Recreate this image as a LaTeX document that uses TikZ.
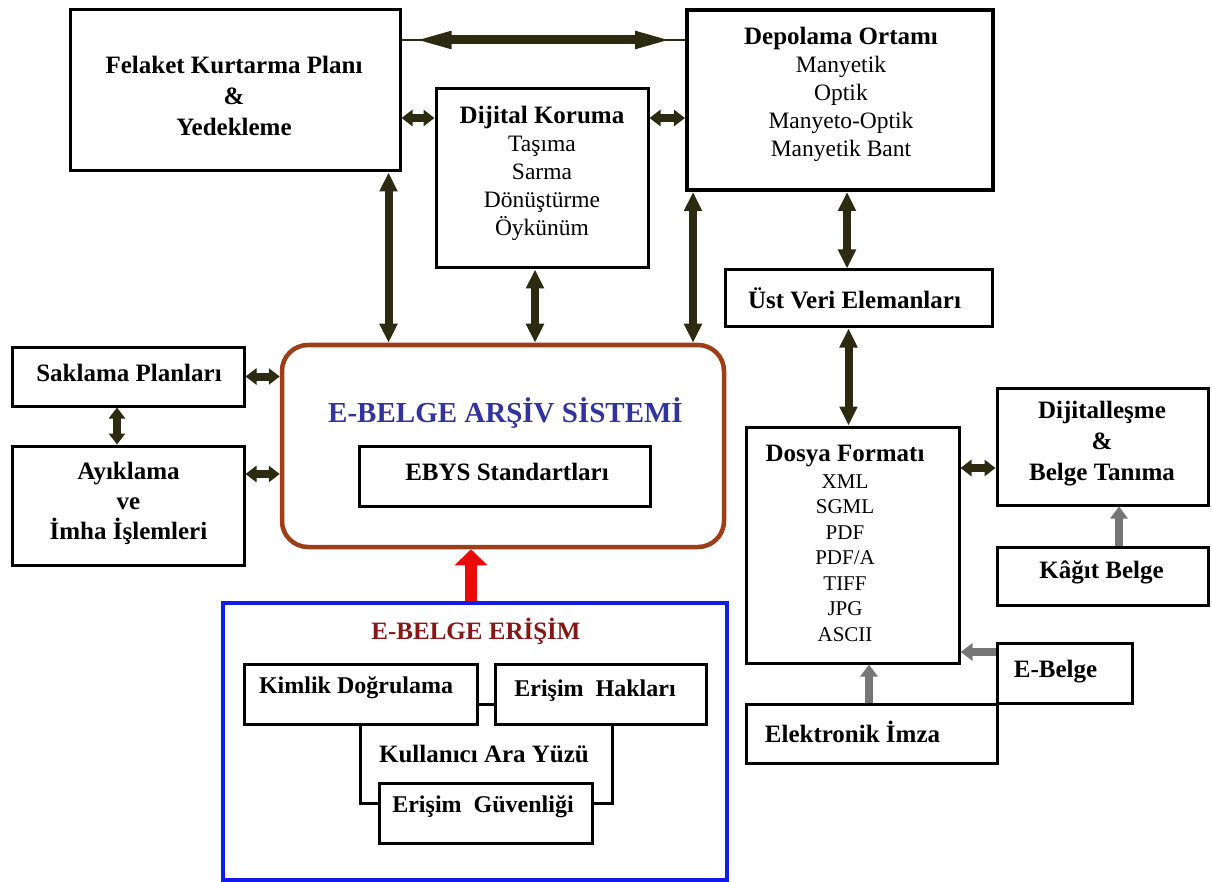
\documentclass[tikz,border=0pt]{standalone}
\usepackage{fontspec}
\setmainfont{Liberation Serif}
\usetikzlibrary{arrows.meta,calc}
\definecolor{olv}{RGB}{44,42,16}
\definecolor{brn}{RGB}{158,62,24}
\definecolor{blu}{RGB}{16,28,235}
\definecolor{ttlblue}{RGB}{50,50,160}
\definecolor{ttlred}{RGB}{135,22,22}
\definecolor{gry}{RGB}{118,118,118}
\definecolor{redarrow}{RGB}{235,10,10}
\begin{document}
\begin{tikzpicture}[x=1pt,y=-1pt,
  box/.style={draw=black, line width=3pt, inner sep=0pt, rectangle},
  ttl/.style={inner sep=0pt, align=center, font=\fontsize{25}{31}\selectfont\bfseries},
  lst/.style={inner sep=0pt, align=center, font=\fontsize{23.5}{28}\selectfont},
  dbl/.style={draw=olv, line width=8pt,
    {Triangle[width=17pt,length=19pt]}-{Triangle[width=17pt,length=19pt]}},
  dblshort/.style={draw=olv, line width=8pt,
    {Triangle[width=16pt,length=11pt]}-{Triangle[width=16pt,length=11pt]}},
  grayarrow/.style={draw=gry, line width=8pt, -{Triangle[width=17pt,length=12pt]}},
  redarr/.style={draw=redarrow, line width=12pt, -{Triangle[width=32pt,length=16pt]}},
  joinline/.style={line width=3pt}
]
\useasboundingbox (0,0) rectangle (1212,882);

% ---- upper row
\node[box, minimum width=330pt, minimum height=161pt] (fel) at (235,90.5) {};
\node[ttl] (felt) at (234,96) {Felaket Kurtarma Planı\\\&\\Yedekleme};

\node[box, minimum width=212pt, minimum height=179pt] (dij) at (542,178.5) {};
\node[lst] (dijt) at (542,173) {\textbf{\fontsize{25}{28}\selectfont Dijital Koruma}\\Taşıma\\Sarma\\Dönüştürme\\Öykünüm};

\node[box, line width=4pt, minimum width=306pt, minimum height=180pt] (dep) at (840,100) {};
\node[lst] (dept) at (841,94) {\textbf{\fontsize{25}{28}\selectfont Depolama Ortamı}\\Manyetik\\Optik\\Manyeto-Optik\\Manyetik Bant};

\node[box, minimum width=267pt, minimum height=57pt] (ust) at (858.5,298.5) {};
\node[ttl] (ustt) at (854.5,298) {Üst Veri Elemanları};

% ---- archive system
\node[draw=brn, line width=4.5pt, rounded corners=26pt, inner sep=0pt,
      minimum width=442pt, minimum height=202pt] (ars) at (503,446) {};
\node[ttl, font=\fontsize{29}{34}\selectfont\bfseries, text=ttlblue] (arst) at (505.5,413) {E-BELGE ARŞİV SİSTEMİ};
\node[box, minimum width=291pt, minimum height=60pt] (ebys) at (504.5,476) {};
\node[ttl] (ebyst) at (507,472) {EBYS Standartları};

% ---- left column
\node[box, minimum width=232pt, minimum height=59pt] (sak) at (128,376.5) {};
\node[ttl] (sakt) at (129,373) {Saklama Planları};
\node[box, minimum width=232pt, minimum height=119pt] (ayi) at (128,505.5) {};
\node[ttl, font=\fontsize{25}{30}\selectfont\bfseries] (ayit) at (128.5,503) {Ayıklama\\ve\\İmha İşlemleri};

% ---- access block
\node[draw=blu, line width=4.5pt, inner sep=0pt, minimum width=504pt, minimum height=277pt] (eri) at (475,741.5) {};
\node[ttl, text=ttlred] (erit) at (476,631) {E-BELGE ERİŞİM};
\node[box, minimum width=233pt, minimum height=60pt] (kim) at (360.5,694) {};
\node[ttl, font=\fontsize{24}{30}\selectfont\bfseries] (kimt) at (356,688) {Kimlik Doğrulama};
\node[box, minimum width=211pt, minimum height=60pt] (hak) at (600.5,694) {};
\node[ttl, font=\fontsize{24}{30}\selectfont\bfseries] (hakt) at (595,691) {Erişim\ \ Hakları};
\node[box, minimum width=213pt, minimum height=60pt] (gvn) at (485.5,813) {};
\node[ttl, font=\fontsize{24}{30}\selectfont\bfseries] (gvnt) at (483,807) {Erişim\ \ Güvenliği};
\node[ttl] (kult) at (484,754) {Kullanıcı Ara Yüzü};

\draw[joinline] ([yshift=-10pt]kim.east) -- ([yshift=-10pt]hak.west);
\draw[joinline] (kim.south) |- ([yshift=10pt]gvn.west);
\coordinate (hs) at ([xshift=11.5pt]hak.south);
\draw[joinline] (hs) |- ([yshift=10pt]gvn.east);

% ---- right column
\node[box, minimum width=213pt, minimum height=236pt] (dos) at (852.5,545) {};
\node[inner sep=0pt, align=center, font=\fontsize{21}{25.5}\selectfont] (dost) at (845,543)
  {\textbf{\fontsize{25}{25.5}\selectfont Dosya Formatı}\\[1.5pt]XML\\SGML\\PDF\\PDF/A\\TIFF\\JPG\\ASCII};
\node[box, minimum width=211pt, minimum height=117pt] (dig) at (1102.5,446.5) {};
\node[ttl] (digt) at (1102,444) {Dijitalleşme\\\&\\Belge Tanıma};
\node[box, minimum width=211pt, minimum height=58pt] (kag) at (1102.5,576) {};
\node[ttl] (kagt) at (1101.5,572) {Kâğıt Belge};
\node[box, minimum width=135pt, minimum height=60pt] (ebl) at (1064.5,673) {};
\node[ttl] (eblt) at (1055.5,672) {E-Belge};
\node[box, minimum width=251pt, minimum height=59pt] (elk) at (871.5,733.5) {};
\node[ttl] (elkt) at (852.5,732) {Elektronik İmza};

% ---- storage links
\coordinate (fa) at ([yshift=50.5pt]fel.east);
\coordinate (fb) at (fa -| dep.west);
\draw[olv, line width=1.2pt] (fa) -- (fb);
\draw[draw=olv, line width=9pt, shorten <=8pt, shorten >=8pt,
      {Triangle[width=15pt,length=42pt]}-{Triangle[width=15pt,length=42pt]}] (fa) -- (fb);

\coordinate (fd) at ([yshift=-27.5pt]fel.east);
\draw[dblshort] (fd) -- (fd -| dij.west);
\coordinate (dd) at ([yshift=60.5pt]dij.east);
\draw[dblshort] (dd) -- (dd -| dep.west);

\coordinate (fs) at ([xshift=-13pt]fel.south east);
\draw[dbl] (fs) -- (fs |- ars.north);
\coordinate (ds) at ([xshift=-7pt]dij.south);
\draw[dbl] (ds) -- (ds |- ars.north);
\coordinate (ps) at ([xshift=8pt]dep.south west);
\draw[dbl] (ps) -- (ps |- ars.north);
\coordinate (pu) at ([xshift=7pt]dep.south);
\draw[dbl] (pu) -- (pu |- ust.north);
\coordinate (ud) at ([xshift=-10pt]ust.south);
\draw[dbl] (ud) -- (ud |- dos.north);

\draw[dblshort] (sak.east) -- (sak.east -| ars.west);
\coordinate (ya) at ([yshift=31.5pt]ayi.east);
\draw[dblshort] (ya) -- (ya -| ars.west);
\coordinate (sy) at ([xshift=-11pt]sak.south);
\draw[dblshort] (sy) -- (sy |- ayi.north);

\coordinate (gd) at ([yshift=-21.5pt]dig.west);
\draw[dblshort] (gd -| dos.east) -- (gd);

% ---- input arrows
\coordinate (kg) at ([xshift=16.5pt]kag.north);
\draw[grayarrow] (kg) -- (kg |- dig.south);
\coordinate (eb) at ([yshift=21pt]ebl.west);
\draw[grayarrow] (eb) -- (eb -| dos.east);
\coordinate (ek) at ([xshift=-2.5pt]elk.north);
\draw[grayarrow] (ek) -- (ek |- dos.south);

\coordinate (er) at ([xshift=-4pt]eri.north);
\draw[redarr] (er) -- (er |- ars.south);
\end{tikzpicture}
\end{document}
